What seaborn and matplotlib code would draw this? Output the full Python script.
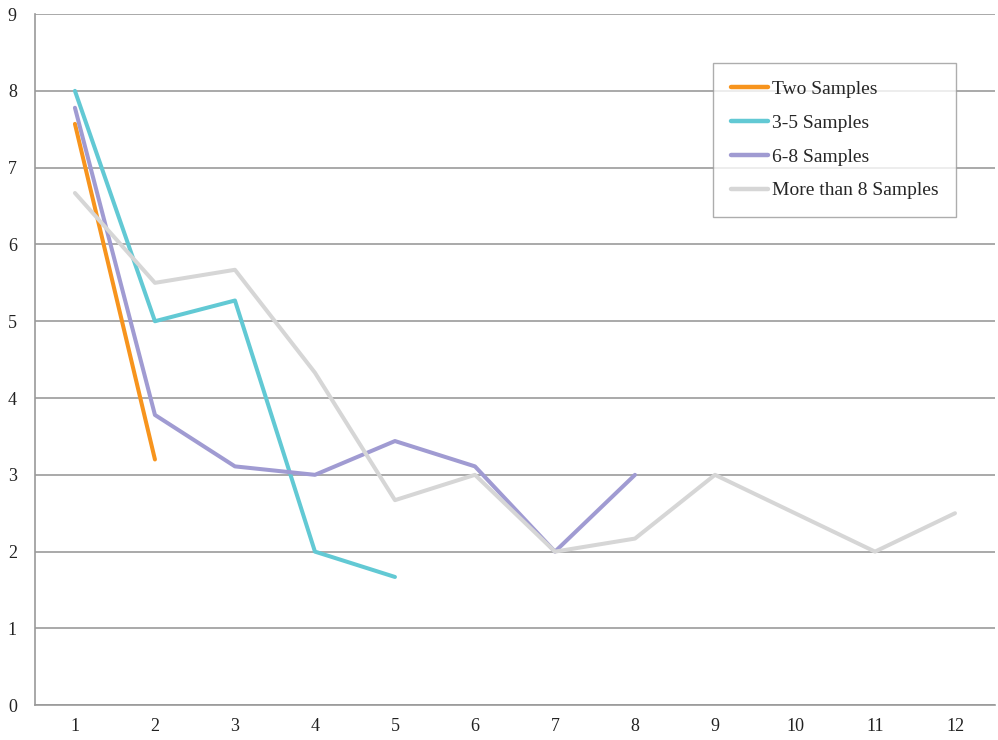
import pandas as pd
import matplotlib
matplotlib.use('Agg')
import matplotlib.pyplot as plt
import seaborn as sns

# values
x_two = [1, 2]
two_samples = [7.57, 3.2]

x_three_five = [1, 2, 3, 4, 5]
three_five = [8.0, 5.0, 5.27, 2.0, 1.67]

x_six_eight = [1, 2, 3, 4, 5, 6, 7, 8]
six_eight = [7.78, 3.78, 3.11, 3.0, 3.44, 3.11, 2.0, 3.0]

x_more = [1, 2, 3, 4, 5, 6, 7, 8, 9, 10, 11, 12]
more_than_8 = [6.67, 5.5, 5.67, 4.33, 2.67, 3.0, 2.0, 2.17, 3.0, 2.5, 2.0, 2.5]

series_names = ['Two Samples', '3-5 Samples', '6-8 Samples', 'More than 8 Samples']
series_colors = ['#F7941D', '#62C9D4', '#A09BD2', '#D6D6D6']
x_labels = [str(i) for i in range(1, 13)]


def build_frame():
    frames = []
    for name, xs, ys in zip(series_names,
                            [x_two, x_three_five, x_six_eight, x_more],
                            [two_samples, three_five, six_eight, more_than_8]):
        frames.append(pd.DataFrame({'x': xs, 'y': ys, 'series': name}))
    return pd.concat(frames, ignore_index=True)


def main():
    data = build_frame()
    sns.set_style('white')
    plt.rcParams['font.family'] = ['Liberation Serif', 'DejaVu Serif']

    fig = plt.figure(figsize=(9.98, 7.4), dpi=100)
    ax = fig.add_axes([0.035, 0.047, 0.962, 0.934])

    sns.lineplot(data=data, x='x', y='y', hue='series', hue_order=series_names,
                 palette=series_colors, linewidth=2.9, ax=ax, sort=False)

    ax.set_xlim(0.5, 12.5)
    ax.set_ylim(0, 9)
    ax.set_yticks(range(0, 10))
    ax.set_xticks(range(1, 13))
    ax.set_xticklabels(x_labels)
    ax.set_xticks([i + 0.5 for i in range(0, 13)], minor=True)
    ax.tick_params(axis='x', which='major', length=0, pad=9, labelsize=13, colors='#222222')
    ax.tick_params(axis='x', which='minor', length=5, width=1.2, color='#999999', direction='out')
    ax.tick_params(axis='y', which='major', length=5, width=1.2, color='#999999',
                   direction='out', pad=8, labelsize=13, labelcolor='#222222')
    ax.set_xlabel('')
    ax.set_ylabel('')

    ax.yaxis.grid(True, color='#A3A3A3', linewidth=1.3)
    ax.set_axisbelow(True)
    for side in ['top', 'right']:
        ax.spines[side].set_visible(False)
    for side in ['left', 'bottom']:
        ax.spines[side].set_color('#999999')
        ax.spines[side].set_linewidth(1.2)

    leg = ax.legend(loc='upper right', bbox_to_anchor=(0.959, 0.929), frameon=True,
                    fancybox=False, edgecolor='#999999', fontsize=14,
                    handlelength=1.9, handletextpad=0.2, labelspacing=0.83,
                    borderpad=0.9, borderaxespad=0)
    leg.get_frame().set_linewidth(1.0)
    for line in leg.get_lines():
        line.set_linewidth(3.2)

    plt.savefig('out.png', dpi=100)


if __name__ == '__main__':
    main()
